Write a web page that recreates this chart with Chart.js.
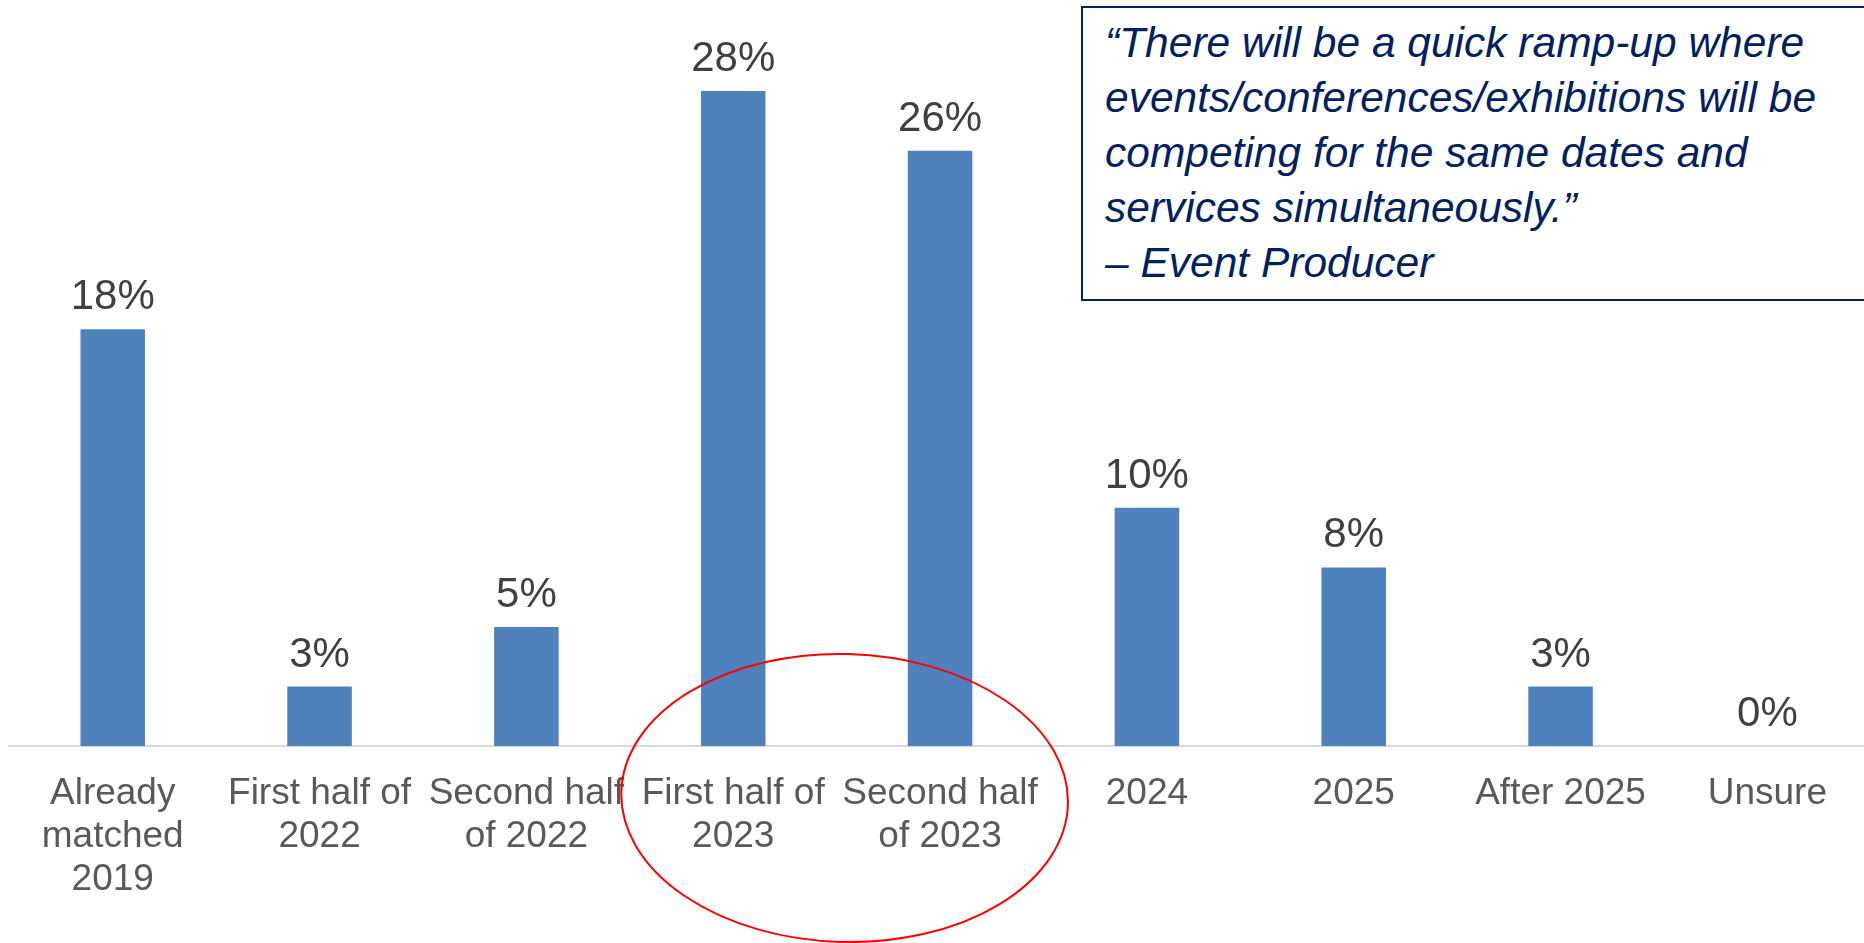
<!DOCTYPE html>
<html>
<head>
<meta charset="utf-8">
<title>Return to 2019 event levels</title>
<script src="https://cdn.jsdelivr.net/npm/chart.js"></script>
<style>
  html, body { margin: 0; padding: 0; background: #fff; overflow: hidden; }
  #wrap { position: relative; width: 1864px; height: 943px; overflow: hidden; }
  #chart { position: absolute; left: 0; top: 0; }
  #quote {
    position: absolute;
    left: 1081px;
    top: 6px;
    width: 900px;
    height: 284px;
    border: 2px solid #002060;
    box-sizing: content-box;
    padding: 7px 0 0 22px;
    font-family: "Liberation Sans", Arial, sans-serif;
    font-style: italic;
    font-size: 42.5px;
    line-height: 55px;
    color: #002060;
    white-space: nowrap;
    background: #fff;
  }
</style>
</head>
<body>
<div id="wrap">
  <canvas id="chart" width="1872" height="943"></canvas>
  <div id="quote">“There will be a quick ramp-up where<br>events/conferences/exhibitions will be<br>competing for the same dates and<br>services simultaneously.”<br>– Event Producer</div>
</div>
<script>
const categories = [
  ["Already", "matched", "2019"],
  ["First half of", "2022"],
  ["Second half", "of 2022"],
  ["First half of", "2023"],
  ["Second half", "of 2023"],
  "2024",
  "2025",
  "After 2025",
  "Unsure"
];
// share of respondents, in %
const shares = [17.95, 2.56, 5.13, 28.21, 25.64, 10.26, 7.69, 2.56, 0];
// the two categories circled in red
const highlighted = [3, 4];

const barColor = "#4f81bd";
const fontFamily = "'Liberation Sans', Arial, sans-serif";

// percentage printed above each bar
const valueLabels = {
  id: "valueLabels",
  afterDatasetsDraw(chart) {
    const ctx = chart.ctx;
    const meta = chart.getDatasetMeta(0);
    ctx.save();
    ctx.font = "42px " + fontFamily;
    ctx.fillStyle = "#404040";
    ctx.textAlign = "center";
    ctx.textBaseline = "alphabetic";
    meta.data.forEach((bar, i) => {
      ctx.fillText(Math.round(shares[i]) + "%", bar.x, bar.y - 20);
    });
    ctx.restore();
  }
};

// red ring around the highlighted categories
const highlightRing = {
  id: "highlightRing",
  afterDraw(chart) {
    const x = chart.scales.x;
    const first = x.getPixelForValue(highlighted[0]);
    const last = x.getPixelForValue(highlighted[highlighted.length - 1]);
    const step = x.getPixelForValue(1) - x.getPixelForValue(0);
    const ctx = chart.ctx;
    ctx.save();
    ctx.strokeStyle = "#ff0000";
    ctx.lineWidth = 2;
    ctx.beginPath();
    ctx.ellipse((first + last) / 2 + 8, chart.chartArea.bottom + 52, step * 1.08, 144, 0.027, 0, Math.PI * 2);
    ctx.stroke();
    ctx.restore();
  }
};

const chart = new Chart(document.getElementById("chart"), {
  type: "bar",
  data: {
    labels: categories,
    datasets: [{
      data: shares,
      backgroundColor: barColor,
      borderWidth: 0,
      categoryPercentage: 1,
      barPercentage: 0.312
    }]
  },
  options: {
    responsive: false,
    animation: false,
    layout: { padding: { left: 9.3, right: 1.2, top: 3, bottom: 0 } },
    plugins: {
      legend: { display: false },
      tooltip: { enabled: false }
    },
    scales: {
      x: {
        grid: { display: false, drawTicks: false },
        border: { display: true, color: "#d9d9d9", width: 2 },
        ticks: {
          color: "#595959",
          font: { family: fontFamily, size: 37, lineHeight: 1.16 },
          padding: 26,
          autoSkip: false,
          maxRotation: 0,
          minRotation: 0
        },
        afterFit(scale) { scale.height = 197; }
      },
      y: {
        display: false,
        min: 0,
        max: 32
      }
    }
  },
  plugins: [valueLabels, highlightRing]
});
</script>
</body>
</html>
